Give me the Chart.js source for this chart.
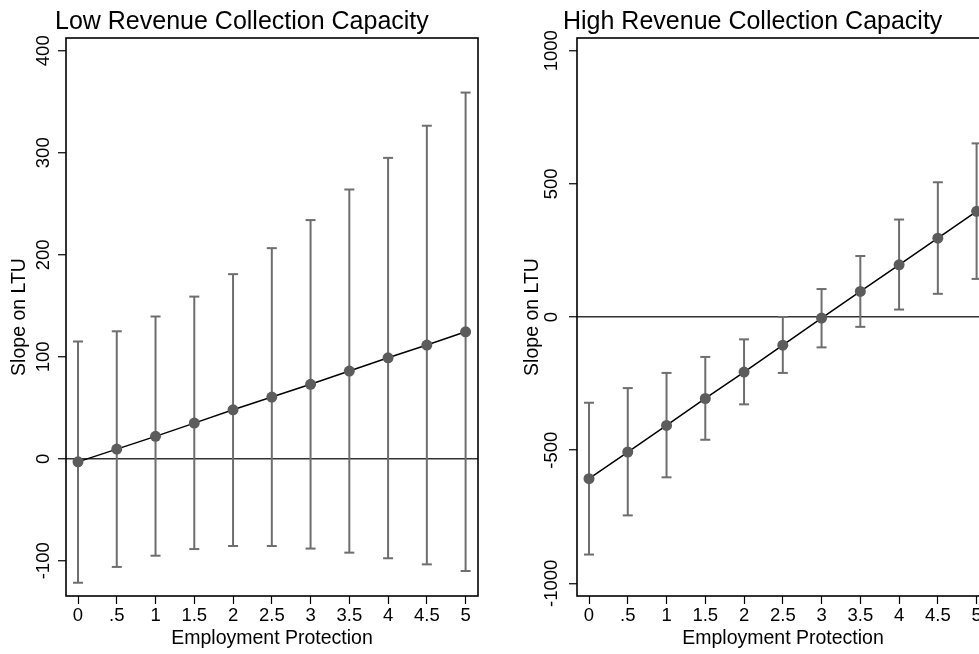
<!DOCTYPE html>
<html>
<head>
<meta charset="utf-8">
<script src="https://cdn.jsdelivr.net/npm/chart.js@4.4.1/dist/chart.umd.min.js"></script>
<style>
  html, body { margin: 0; padding: 0; background: #fff; width: 979px; height: 654px; overflow: hidden; }
  canvas { position: absolute; top: 0; }
  #low { left: 0; }
  #high { left: 490px; }
</style>
</head>
<body>
<canvas id="low" width="490" height="654"></canvas>
<canvas id="high" width="510" height="654"></canvas>
<script>
// Employment protection values (x axis)
const xVals = [0, 0.5, 1, 1.5, 2, 2.5, 3, 3.5, 4, 4.5, 5];
const xTickLabels = ['0', '.5', '1', '1.5', '2', '2.5', '3', '3.5', '4', '4.5', '5'];

// Low revenue collection capacity: slope estimate and 95% CI
const lowEst = [-3, 9.5, 22, 35, 48, 60.5, 73, 86, 99, 111.5, 124.5];
const lowUpper = [115, 125, 139.5, 159, 181, 206.5, 234, 264, 295, 326.5, 359];
const lowLower = [-121.5, -106, -95, -88.5, -85.5, -85.5, -88, -92, -97.5, -103.5, -110];
const lowYTicks = [-100, 0, 100, 200, 300, 400];
const lowYTickLabels = ['-100', '0', '100', '200', '300', '400'];

// High revenue collection capacity
const highEst = [-607, -507, -407, -306, -207, -106, -4, 96, 196, 296, 397];
const highUpper = [-322, -267, -210, -150, -84, 0, 105, 229, 366, 506, 652];
const highLower = [-892, -745, -602, -461, -328, -210, -114, -37, 28, 87, 143];
const highYTicks = [-1000, -500, 0, 500, 1000];
const highYTickLabels = ['-1000', '-500', '0', '500', '1000'];

const FONT = '"Liberation Sans", Arial, Helvetica, sans-serif';
Chart.defaults.font.family = FONT;
Chart.defaults.color = '#000';

// box round the plot region (chart.js only draws left/bottom borders)
const framePlugin = {
    id: 'frame',
    afterDatasetsDraw(chart) {
        const { ctx, chartArea: a } = chart;
        ctx.save();
        ctx.strokeStyle = '#000';
        ctx.lineWidth = 1.6;
        ctx.strokeRect(a.left, a.top, a.right - a.left, a.bottom - a.top);
        ctx.restore();
    }
};

// panel title, left aligned a bit outside the plot region like Stata does
const panelTitle = {
    id: 'panelTitle',
    afterDraw(chart, args, opts) {
        const ctx = chart.ctx;
        ctx.save();
        ctx.font = '25px ' + FONT;
        ctx.fillStyle = '#000';
        ctx.textBaseline = 'alphabetic';
        ctx.textAlign = 'left';
        ctx.fillText(opts.text, opts.x, opts.y);
        ctx.restore();
    }
};

function whiskerPoints(lower, upper) {
    const pts = [];
    xVals.forEach((x, i) => {
        pts.push({ x: x, y: lower[i] }, { x: x, y: upper[i] }, { x: x, y: null });
    });
    return pts;
}

function buildPanel(canvas, p) {
    return new Chart(canvas, {
        type: 'line',
        data: {
            datasets: [
                {
                    data: xVals.map((x, i) => ({ x: x, y: p.est[i] })),
                    borderColor: '#000',
                    borderWidth: 1.5,
                    pointRadius: 5.5,
                    pointBackgroundColor: '#5c5c5c',
                    pointBorderWidth: 0,
                    tension: 0
                },
                {
                    data: whiskerPoints(p.lower, p.upper),
                    borderColor: '#6e6e6e',
                    borderWidth: 2,
                    spanGaps: false,
                    pointStyle: 'line',
                    pointRadius: 5,
                    pointBorderColor: '#6e6e6e',
                    pointBorderWidth: 2,
                    tension: 0
                }
            ]
        },
        options: {
            responsive: false,
            animation: false,
            layout: { padding: { top: 38, right: p.padRight, bottom: 0, left: 0 } },
            plugins: {
                legend: { display: false },
                tooltip: { enabled: false },
                panelTitle: { text: p.title, x: p.titleX, y: 29 }
            },
            scales: {
                x: {
                    type: 'linear',
                    min: -0.155,
                    max: 5.16,
                    afterBuildTicks: (s) => { s.ticks = xVals.map(v => ({ value: v })); },
                    afterFit: (s) => { s.height = 58; },
                    ticks: {
                        autoSkip: false,
                        maxRotation: 0,
                        minRotation: 0,
                        padding: 1,
                        font: { size: 18.5 },
                        callback: (v, i) => xTickLabels[i]
                    },
                    grid: { drawOnChartArea: false, drawTicks: true, tickLength: 8, tickColor: '#000', tickWidth: 1.2 },
                    border: { display: false },
                    title: {
                        display: true,
                        text: 'Employment Protection',
                        font: { size: 19.5 },
                        padding: { top: 0, bottom: 4 }
                    }
                },
                y: {
                    type: 'linear',
                    min: p.yMin,
                    max: p.yMax,
                    afterBuildTicks: (s) => { s.ticks = p.yTicks.map(v => ({ value: v })); },
                    afterFit: (s) => { s.width = p.yWidth; },
                    ticks: {
                        minRotation: 90,
                        maxRotation: 90,
                        crossAlign: 'center',
                        padding: p.yTickPad,
                        font: { size: 18.5 },
                        callback: (v, i) => p.yTickLabels[i]
                    },
                    grid: {
                        color: (c) => (c.tick && c.tick.value === 0 ? '#333' : 'rgba(0,0,0,0)'),
                        lineWidth: 1.5,
                        drawTicks: true,
                        tickLength: 8,
                        tickColor: '#000',
                        tickWidth: 1.2
                    },
                    border: { display: false },
                    title: {
                        display: true,
                        text: 'Slope on LTU',
                        font: { size: 19.5 },
                        padding: { top: p.yTitlePad, bottom: 0 }
                    }
                }
            }
        },
        plugins: [framePlugin, panelTitle]
    });
}

buildPanel(document.getElementById('low'), {
    est: lowEst, lower: lowLower, upper: lowUpper,
    yMin: -134.5, yMax: 412.5,
    yTicks: lowYTicks, yTickLabels: lowYTickLabels,
    title: 'Low Revenue Collection Capacity', titleX: 55,
    yWidth: 66, yTickPad: -4.5, yTitlePad: 8.3, padRight: 12
});

buildPanel(document.getElementById('high'), {
    est: highEst, lower: highLower, upper: highUpper,
    yMin: -1047.7, yMax: 1047.7,
    yTicks: highYTicks, yTickLabels: highYTickLabels,
    title: 'High Revenue Collection Capacity', titleX: 73,
    yWidth: 87, yTickPad: -6.5, yTitlePad: 31.3, padRight: 11
});
</script>
</body>
</html>
